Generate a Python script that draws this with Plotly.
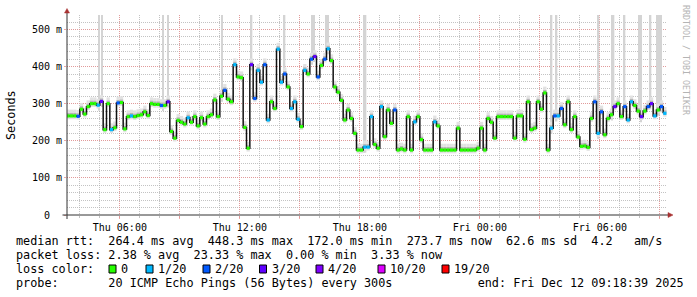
import pandas as pd
import plotly.graph_objects as go

# ---------------- data ----------------
START = "2025-12-11 03:20:00"
STEP = "10min"

median_rtt_ms = [
    267, 267, 267, 266, 285, 272,
    292, 300, 300, 296, 306, 230,
    300, 230, 235, 302, 303, 232,
    265, 267, 265, 268, 270, 278,
    268, 300, 298, 298, 295, 295,
    305, 225, 207, 255, 250, 245,
    262, 250, 265, 240, 262, 245,
    265, 270, 310, 265, 320, 336,
    312, 305, 405, 372, 370, 236,
    180, 405, 314, 390, 358, 405,
    256, 305, 287, 447, 358, 380,
    345, 287, 305, 258, 238, 390,
    380, 420, 427, 372, 403, 420,
    448, 416, 345, 331, 309, 256,
    283, 260, 220, 175, 175, 183,
    183, 265, 190, 180, 292, 211,
    283, 247, 283, 175, 178, 175,
    265, 175, 251, 265, 203, 175,
    175, 175, 251, 240, 175, 175,
    175, 175, 175, 234, 175, 175,
    175, 175, 175, 180, 234, 175,
    260, 250, 207, 265, 265, 265,
    265, 265, 207, 267, 267, 204,
    305, 230, 234, 305, 285, 329,
    175, 234, 267, 267, 287, 243,
    305, 230, 265, 210, 185, 186,
    182, 260, 305, 220, 278, 216,
    260, 270, 292, 300, 265, 292,
    256, 305, 295, 280, 265, 280,
    292, 300, 267, 283, 292, 274,
]

loss_of_20 = [
    0, 0, 0, 2, 0, 0,
    0, 0, 0, 1, 3, 0,
    0, 1, 0, 2, 0, 0,
    0, 1, 0, 0, 0, 0,
    0, 0, 0, 0, 2, 0,
    3, 0, 0, 0, 0, 0,
    1, 0, 0, 0, 0, 0,
    0, 0, 0, 0, 0, 2,
    0, 0, 1, 0, 0, 0,
    0, 3, 2, 1, 1, 2,
    1, 0, 0, 1, 1, 2,
    0, 1, 1, 1, 0, 1,
    0, 2, 3, 2, 0, 2,
    1, 0, 0, 0, 0, 0,
    0, 0, 0, 0, 0, 1,
    1, 1, 0, 0, 1, 0,
    0, 0, 2, 0, 0, 0,
    0, 0, 1, 0, 0, 0,
    0, 0, 1, 0, 0, 0,
    0, 0, 0, 0, 0, 0,
    0, 0, 0, 0, 0, 0,
    0, 0, 0, 0, 0, 0,
    0, 0, 0, 0, 0, 0,
    0, 0, 0, 0, 0, 0,
    0, 1, 2, 1, 2, 0,
    0, 0, 0, 0, 0, 0,
    0, 0, 2, 1, 2, 0,
    0, 0, 3, 0, 0, 2,
    1, 1, 0, 0, 3, 0,
    2, 3, 1, 0, 2, 1,
]

# times where single slow pings push the smoke above the top of the graph
outlier_times = [
    "2025-12-11 04:57", "2025-12-11 05:07", "2025-12-11 08:10", "2025-12-11 08:25",
    "2025-12-11 11:06", "2025-12-11 12:35", "2025-12-11 14:14", "2025-12-11 15:37",
    "2025-12-11 15:42", "2025-12-11 16:20", "2025-12-11 16:25", "2025-12-11 18:12",
    "2025-12-11 18:17", "2025-12-12 03:35", "2025-12-12 03:50", "2025-12-12 05:56",
    "2025-12-12 06:36", "2025-12-12 06:41", "2025-12-12 07:14", "2025-12-12 07:58",
    "2025-12-12 08:03", "2025-12-12 08:32", "2025-12-12 08:53", "2025-12-12 08:58",
    "2025-12-12 09:03",
]

loss_levels = [0, 1, 2, 3, 4, 10, 19]
loss_labels = ["0", "1/20", "2/20", "3/20", "4/20", "10/20", "19/20"]
loss_colors = ["#26ff00", "#00b8ff", "#0059ff", "#5e00ff", "#7e00ff", "#dd00ff", "#ff0000"]

x_range = ["2025-12-11 03:21:30", "2025-12-12 09:21:30"]
x_tick_vals = ["2025-12-11 06:00", "2025-12-11 09:00", "2025-12-11 12:00", "2025-12-11 15:00",
               "2025-12-11 18:00", "2025-12-11 21:00", "2025-12-12 00:00", "2025-12-12 03:00",
               "2025-12-12 06:00", "2025-12-12 09:00"]
x_tick_text = ["Thu 06:00", "", "Thu 12:00", "", "Thu 18:00", "", "Fri 00:00", "", "Fri 06:00", ""]
y_tick_vals = [0, 100, 200, 300, 400, 500]
y_tick_text = ["0\u00a0\u00a0", "100 m", "200 m", "300 m", "400 m", "500 m"]

legend_line1 = "median rtt:  264.4 ms avg  448.3 ms max  172.0 ms min  273.7 ms now  62.6 ms sd  4.2   am/s"
legend_line2 = "packet loss: 2.38 % avg  23.33 % max  0.00 % min  3.33 % now"
legend_line3_head = "loss color:"
legend_line4 = "probe:       20 ICMP Echo Pings (56 Bytes) every 300s            end: Fri Dec 12 09:18:39 2025"

# ---------------- styling / layout constants ----------------
W, H = 697, 297
L, R, T, B = 67, 30, 15, 82
PW, PH = W - L - R, H - T - B
MONO = "DejaVu Sans Mono"


def px_x(px):
    return (px - L) / PW


def px_y(py):
    return (H - B - py) / PH


def loss_color(c):
    col = loss_colors[0]
    for lvl, cc in zip(loss_levels, loss_colors):
        if c >= lvl:
            col = cc
    return col


times = pd.date_range(START, periods=len(median_rtt_ms), freq=STEP)
step = pd.Timedelta(STEP)
centers = times + step / 2
step_ms = step.total_seconds() * 1000

fig = go.Figure()

# outlier smoke reaching the top
o_t = pd.to_datetime(outlier_times)
o_idx = [min(len(median_rtt_ms) - 1, int((t - times[0]) / step)) for t in o_t]
o_base = [median_rtt_ms[i] - 15 for i in o_idx]
fig.add_trace(go.Bar(x=o_t, y=[700 - b for b in o_base], base=o_base,
                     width=5 * 60 * 1000, marker=dict(color="#d4d4d4", line=dict(width=0)),
                     hoverinfo="skip"))

# smoke around the median
fig.add_trace(go.Bar(x=centers, y=[26] * len(median_rtt_ms), base=[m - 9 for m in median_rtt_ms],
                     width=step_ms, marker=dict(color="#e2e2e2", line=dict(width=0)), hoverinfo="skip"))
fig.add_trace(go.Bar(x=centers, y=[11] * len(median_rtt_ms), base=[m - 3 for m in median_rtt_ms],
                     width=step_ms, marker=dict(color="#b4b4b4", line=dict(width=0)), hoverinfo="skip"))

# median line
fig.add_trace(go.Scatter(x=times, y=median_rtt_ms, mode="lines",
                         line=dict(color="#111111", width=1.5, shape="hv"), hoverinfo="skip"))
# loss colour marks
fig.add_trace(go.Scatter(x=centers, y=median_rtt_ms, mode="markers",
                         marker=dict(symbol="square", size=3.2,
                                     color=[loss_color(c) for c in loss_of_20], line=dict(width=0)),
                         hoverinfo="skip"))

MGRID = "rgba(235,140,140,0.75)"
GRID = "rgba(175,175,175,0.75)"

fig.update_layout(
    width=W, height=H, margin=dict(l=L, r=R, t=T, b=B),
    paper_bgcolor="white", plot_bgcolor="white", showlegend=False, barmode="overlay",
    font=dict(family=MONO, size=10, color="#000000"),
    xaxis=dict(type="date", range=x_range, tickmode="array", tickvals=x_tick_vals, ticktext=x_tick_text,
               showgrid=True, gridcolor=MGRID, griddash="1px,1px", gridwidth=1,
               ticks="outside", ticklen=3, tickcolor=MGRID, zeroline=False, showline=False,
               tickfont=dict(family=MONO, size=10, color="#000000"),
               minor=dict(tickmode="linear", tick0="2025-12-11 00:00", dtick=3600000,
                          showgrid=True, gridcolor=GRID, griddash="1px,1px", gridwidth=1,
                          ticks="outside", ticklen=2, tickcolor=GRID)),
    yaxis=dict(range=[0, 539], tickmode="array", tickvals=y_tick_vals, ticktext=y_tick_text,
               showgrid=True, gridcolor=MGRID, griddash="1px,1px", gridwidth=1,
               ticks="outside", ticklen=2, tickcolor=MGRID, zeroline=False, showline=False,
               tickfont=dict(family=MONO, size=10, color="#000000"),
               minor=dict(tickmode="linear", tick0=0, dtick=20, showgrid=True, gridcolor=GRID,
                          griddash="1px,1px", gridwidth=1)),
)

AXIS = "#333333"
ARROW = "#a83232"
shapes = [
    dict(type="line", xref="paper", yref="paper", x0=px_x(62.5), x1=px_x(670), y0=0, y1=0,
         line=dict(color=AXIS, width=1), layer="above"),
    dict(type="line", xref="paper", yref="paper", x0=0, x1=0, y0=px_y(219), y1=px_y(11),
         line=dict(color=AXIS, width=1), layer="above"),
    dict(type="path", xref="paper", yref="paper", layer="above",
         path=f"M {px_x(668)},{px_y(212.5)} L {px_x(673)},{px_y(215)} L {px_x(668)},{px_y(217.5)} Z",
         fillcolor=ARROW, line=dict(color=ARROW, width=0.5)),
    dict(type="path", xref="paper", yref="paper", layer="above",
         path=f"M {px_x(64.5)},{px_y(13)} L {px_x(67)},{px_y(8.5)} L {px_x(69.5)},{px_y(13)} Z",
         fillcolor=ARROW, line=dict(color=ARROW, width=0.5)),
]

annotations = []


def text_at(txt, px, py, size=11.8, color="#000000", angle=0, xanchor="left"):
    annotations.append(dict(text=txt.replace(" ", "\u00a0"), xref="paper", yref="paper",
                            x=px_x(px), y=px_y(py), xanchor=xanchor, yanchor="middle",
                            showarrow=False, textangle=angle, borderpad=0,
                            font=dict(family=MONO, size=size, color=color)))


text_at(legend_line1, 15, 241)
text_at(legend_line2, 15, 255)
text_at(legend_line3_head, 15, 269)
text_at(legend_line4, 15, 283)

sq_left = [109, 146, 203, 259.5, 316, 378, 442]
for left, lab, col in zip(sq_left, loss_labels, loss_colors):
    shapes.append(dict(type="rect", xref="paper", yref="paper", layer="above",
                       x0=px_x(left), x1=px_x(left + 7), y0=px_y(265), y1=px_y(273),
                       fillcolor=col, line=dict(color="#000000", width=1)))
    text_at(lab, left + 11, 269)

text_at("Seconds", 11, 115, angle=-90, xanchor="center")
text_at("RRDTOOL / TOBI OETIKER", 686, 60, size=8.3, color="#b4b4b4", angle=90, xanchor="center")

fig.update_layout(shapes=shapes, annotations=annotations)
fig.write_html("out.html")
